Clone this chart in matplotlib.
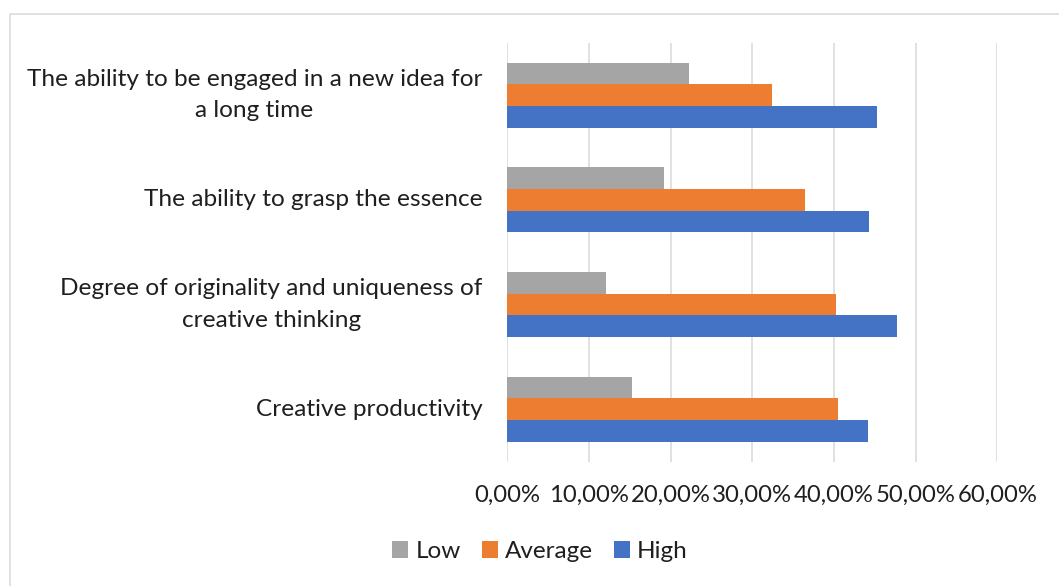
import matplotlib
matplotlib.use("Agg")
import matplotlib.pyplot as plt
import numpy as np
from matplotlib.patches import Patch, Rectangle
from matplotlib.ticker import FuncFormatter

plt.rcParams["font.family"] = ["Lato", "DejaVu Sans"]

categories = [
    "Creative productivity",
    "Degree of originality and uniqueness of\ncreative thinking",
    "The ability to grasp the essence",
    "The ability to be engaged in a new idea for\na long time",
]
low = [15.3, 12.1, 19.2, 22.3]
average = [40.5, 40.2, 36.5, 32.4]
high = [44.2, 47.7, 44.3, 45.3]

series = [("Low", low, "#A5A5A5"), ("Average", average, "#ED7D31"), ("High", high, "#4472C4")]
text_color = "#1F1F1F"
grid_color = "#D9D9D9"

W, H = 1059, 586
fig = plt.figure(figsize=(W / 100, H / 100), dpi=100)
ax = fig.add_axes([507.3 / W, 1 - 461.5 / H, 490 / W, 418.6 / H])

y = np.arange(len(categories))
bar_h = 0.207
offsets = [bar_h, 0.0, -bar_h]
for (name, vals, color), off in zip(series, offsets):
    ax.barh(y + off, vals, height=bar_h, color=color, label=name, zorder=3)

ax.set_xlim(0, 60)
ax.set_ylim(-0.5, len(categories) - 0.5)
ax.set_xticks(np.arange(0, 61, 10))
ax.xaxis.set_major_formatter(FuncFormatter(lambda v, _: f"{v:.2f}%".replace(".", ",")))
ax.set_yticks(y)
ax.set_yticklabels(categories, multialignment="center", linespacing=1.6, fontsize=17.6, va="center")
ax.grid(axis="x", color=grid_color, linewidth=1.1, zorder=0)
for s in ax.spines.values():
    s.set_visible(False)
ax.tick_params(axis="both", length=0, colors=text_color)
ax.tick_params(axis="x", labelsize=17.2, pad=17)
ax.tick_params(axis="y", pad=18)

handles = [Patch(facecolor=c, label=n) for n, _, c in series]
leg = fig.legend(handles=handles, loc="center", bbox_to_anchor=(540 / W, 1 - 551.7 / H),
                 ncol=3, frameon=False, handlelength=0.66, handleheight=0.66,
                 handletextpad=0.3, columnspacing=0.85, prop={"size": 17.5})
for t in leg.get_texts():
    t.set_color(text_color)

# chart area border
fig.patches.append(Rectangle((10 / W, -0.1), 1.2, (1 - 13.5 / H) + 0.1, transform=fig.transFigure,
                             fill=False, edgecolor=grid_color, linewidth=1.1, clip_on=False))

fig.savefig("out.png", dpi=100)
